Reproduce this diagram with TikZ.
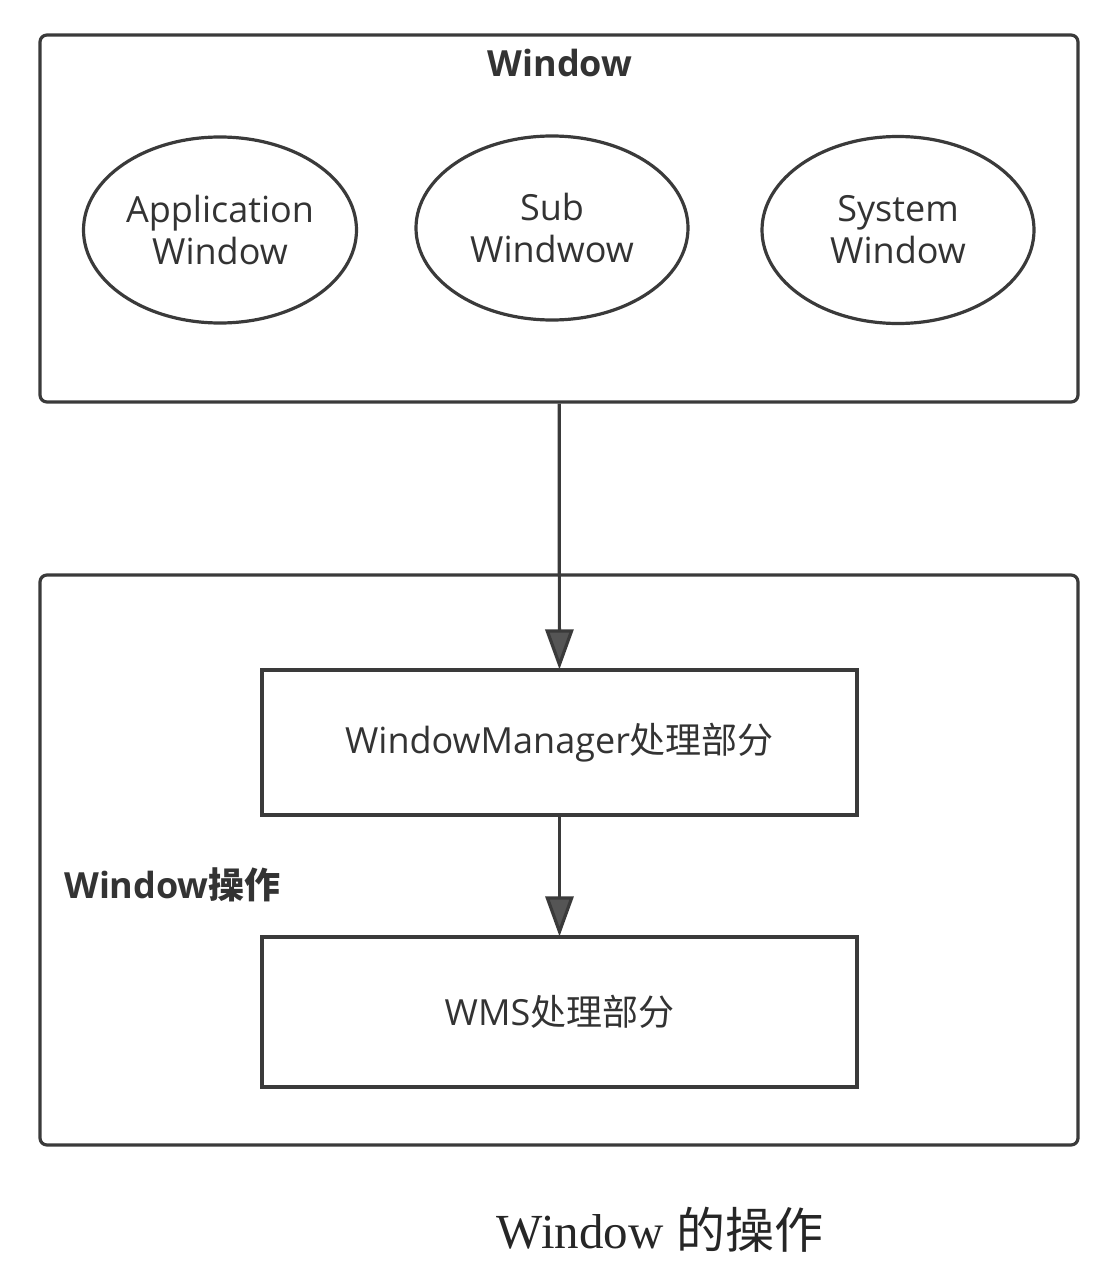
\documentclass[tikz,border=0pt]{standalone}
\usepackage{fontspec}
\setmainfont{Open Sans}
\newfontfamily\cjk{Noto Sans CJK SC}
\newfontfamily\capfont{Liberation Serif}
\usetikzlibrary{arrows.meta,shapes.geometric}
\definecolor{ln}{HTML}{3A3A3A}
\definecolor{tx}{HTML}{333333}
\definecolor{tip}{HTML}{555555}
\tikzset{
  frame/.style={draw=ln, line width=3.2pt, rounded corners=7pt, inner sep=0pt},
  oval/.style={draw=ln, line width=3.2pt, ellipse, inner sep=0pt, align=center, text=tx,
    font=\fontsize{36}{42}\selectfont},
  procbox/.style={draw=ln, line width=3.2pt, inner sep=0pt, text=tx,
    font=\fontsize{36}{40}\selectfont},
  boldlabel/.style={text=tx, inner sep=0pt, font=\bfseries\fontsize{36}{40}\selectfont},
  conn/.style={draw=ln, line width=3.2pt, -{Triangle[width=28pt,length=40pt,fill=tip]}, shorten >=-1pt},
}
\begin{document}
\begin{tikzpicture}[x=1pt,y=-1pt]
\useasboundingbox (0,0) rectangle (1114,1284);
\node[frame, minimum width=1038pt, minimum height=367pt] (top) at (559,218.5) {};
\node[boldlabel] (title) at (560,63) {Window};
\node[oval, minimum width=273pt, minimum height=186pt] (app) at (220,230) {Application\\Window};
\node[oval, minimum width=272pt, minimum height=184pt] (sub) at (552,228) {Sub\\Windwow};
\node[oval, minimum width=272pt, minimum height=187pt] (sys) at (898,230) {System\\Window};
\node[frame, minimum width=1038pt, minimum height=570pt] (bot) at (559,860) {};
\node[procbox, minimum width=595pt, minimum height=145pt] (wm) at (559.5,742.5) {WindowManager{\cjk 处理部分}};
\node[procbox, minimum width=595pt, minimum height=150pt] (wms) at (559.5,1012) {WMS{\cjk 处理部分}};
\node[boldlabel, anchor=west] (oplabel) at (64,885) {Window{\cjk\bfseries 操作}};
\node[text=black!85, font=\capfont\fontsize{49}{54}\selectfont] (caption) at (660,1230) {Window {\cjk 的操作}};
\draw[conn] (top) -- (wm);
\draw[conn] (wm) -- (wms);
\end{tikzpicture}
\end{document}
